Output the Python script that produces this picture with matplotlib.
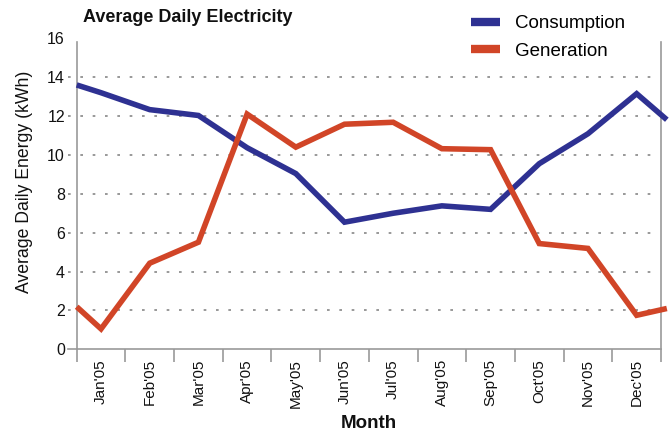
import matplotlib
matplotlib.use("Agg")
import matplotlib.pyplot as plt
from matplotlib.lines import Line2D
import numpy as np

plt.rcParams['font.family'] = ['Liberation Sans', 'DejaVu Sans']

# Monthly averages (kWh/day), positioned at month centres (0 = Jan'05)
months = ["Jan'05", "Feb'05", "Mar'05", "Apr'05", "May'05", "Jun'05",
          "Jul'05", "Aug'05", "Sep'05", "Oct'05", "Nov'05", "Dec'05"]
# positions of the plotted points: period start, each month centre, period end
point_pos = [-0.5, 0, 1, 2, 3, 4, 5, 6, 7, 8, 9, 10, 11, 11.62]
consumption = [13.6, 13.2, 12.33, 12.03, 10.37, 9.04, 6.54, 7.0,
               7.38, 7.2, 9.55, 11.09, 13.15, 11.81]
generation = [2.19, 1.05, 4.43, 5.51, 12.1, 10.4, 11.58, 11.68,
              10.32, 10.27, 5.44, 5.19, 1.75, 2.1]

BLUE = '#2e3192'
ORANGE = '#d14527'
GREY = '#9a9a9a'
INK = '#111111'

fig = plt.figure(figsize=(6.72, 4.33), dpi=100)
ax = fig.add_axes([76.7 / 672, 1 - 349.3 / 433, 584.3 / 672, 311 / 433])

ax.plot(point_pos, consumption, color=BLUE, lw=4.0, solid_joinstyle='miter',
        solid_capstyle='butt', clip_on=False, zorder=3)
ax.plot(point_pos, generation, color=ORANGE, lw=4.0, solid_joinstyle='miter',
        solid_capstyle='butt', clip_on=False, zorder=3)

ax.set_xlim(-0.5, 11.5)
ax.set_ylim(0, 16)

# y axis
yticks = np.arange(0, 17, 2)
ax.set_yticks(yticks)
ax.tick_params(axis='y', length=0, pad=8.5, labelsize=11.5, colors=INK)
# dotted guide lines that reach slightly past the left spine
for v in yticks[1:-1]:
    ax.plot([-0.0155, 0.985], [v, v], transform=ax.get_yaxis_transform(),
            color='#888888', lw=1.2, ls=(0, (1.6, 5.8)), clip_on=False, zorder=1)
ax.plot([-0.0155, 0], [0, 0], transform=ax.get_yaxis_transform(),
        color=GREY, lw=1.2, clip_on=False, zorder=2)

# x axis: boundaries as ticks, month names centred between them
ax.set_xticks(np.arange(-0.5, 12, 1))
ax.set_xticklabels([])
ax.set_xticks(np.arange(0, 12), minor=True)
ax.set_xticklabels(months, minor=True, rotation=90, fontsize=11)
ax.tick_params(axis='x', which='major', length=9, width=1.2, color=GREY, direction='out')
ax.tick_params(axis='x', which='minor', length=0, pad=7, colors=INK)

for s in ['left', 'right', 'bottom']:
    ax.spines[s].set_color(GREY)
    ax.spines[s].set_linewidth(1.2)
ax.spines['top'].set_visible(False)
ax.spines['left'].set_bounds(0, 15.82)
ax.spines['right'].set_bounds(0, 15.82)

fig.text(83 / 672, 1 - 18 / 433, 'Average Daily Electricity', fontsize=13,
         fontweight='bold', va='center', ha='left', color=INK)
fig.text(25 / 672, 1 - 182 / 433, 'Average Daily Energy (kWh)', fontsize=12.7,
         rotation=90, va='center', ha='center', color=INK)
fig.text(369 / 672, 1 - 423 / 433, 'Month', fontsize=13.5, fontweight='bold',
         va='center', ha='center', color=INK)

handles = [Line2D([], [], color=BLUE, lw=6, solid_capstyle='butt'),
           Line2D([], [], color=ORANGE, lw=6, solid_capstyle='butt')]
fig.legend(handles, ['Consumption', 'Generation'], loc='upper left',
           bbox_to_anchor=(467 / 672, 1 - 11.5 / 433), frameon=False, fontsize=13.5,
           handlelength=1.55, handletextpad=0.8, labelspacing=0.55,
           borderpad=0.2, borderaxespad=0)

fig.savefig('out.png', dpi=100)
